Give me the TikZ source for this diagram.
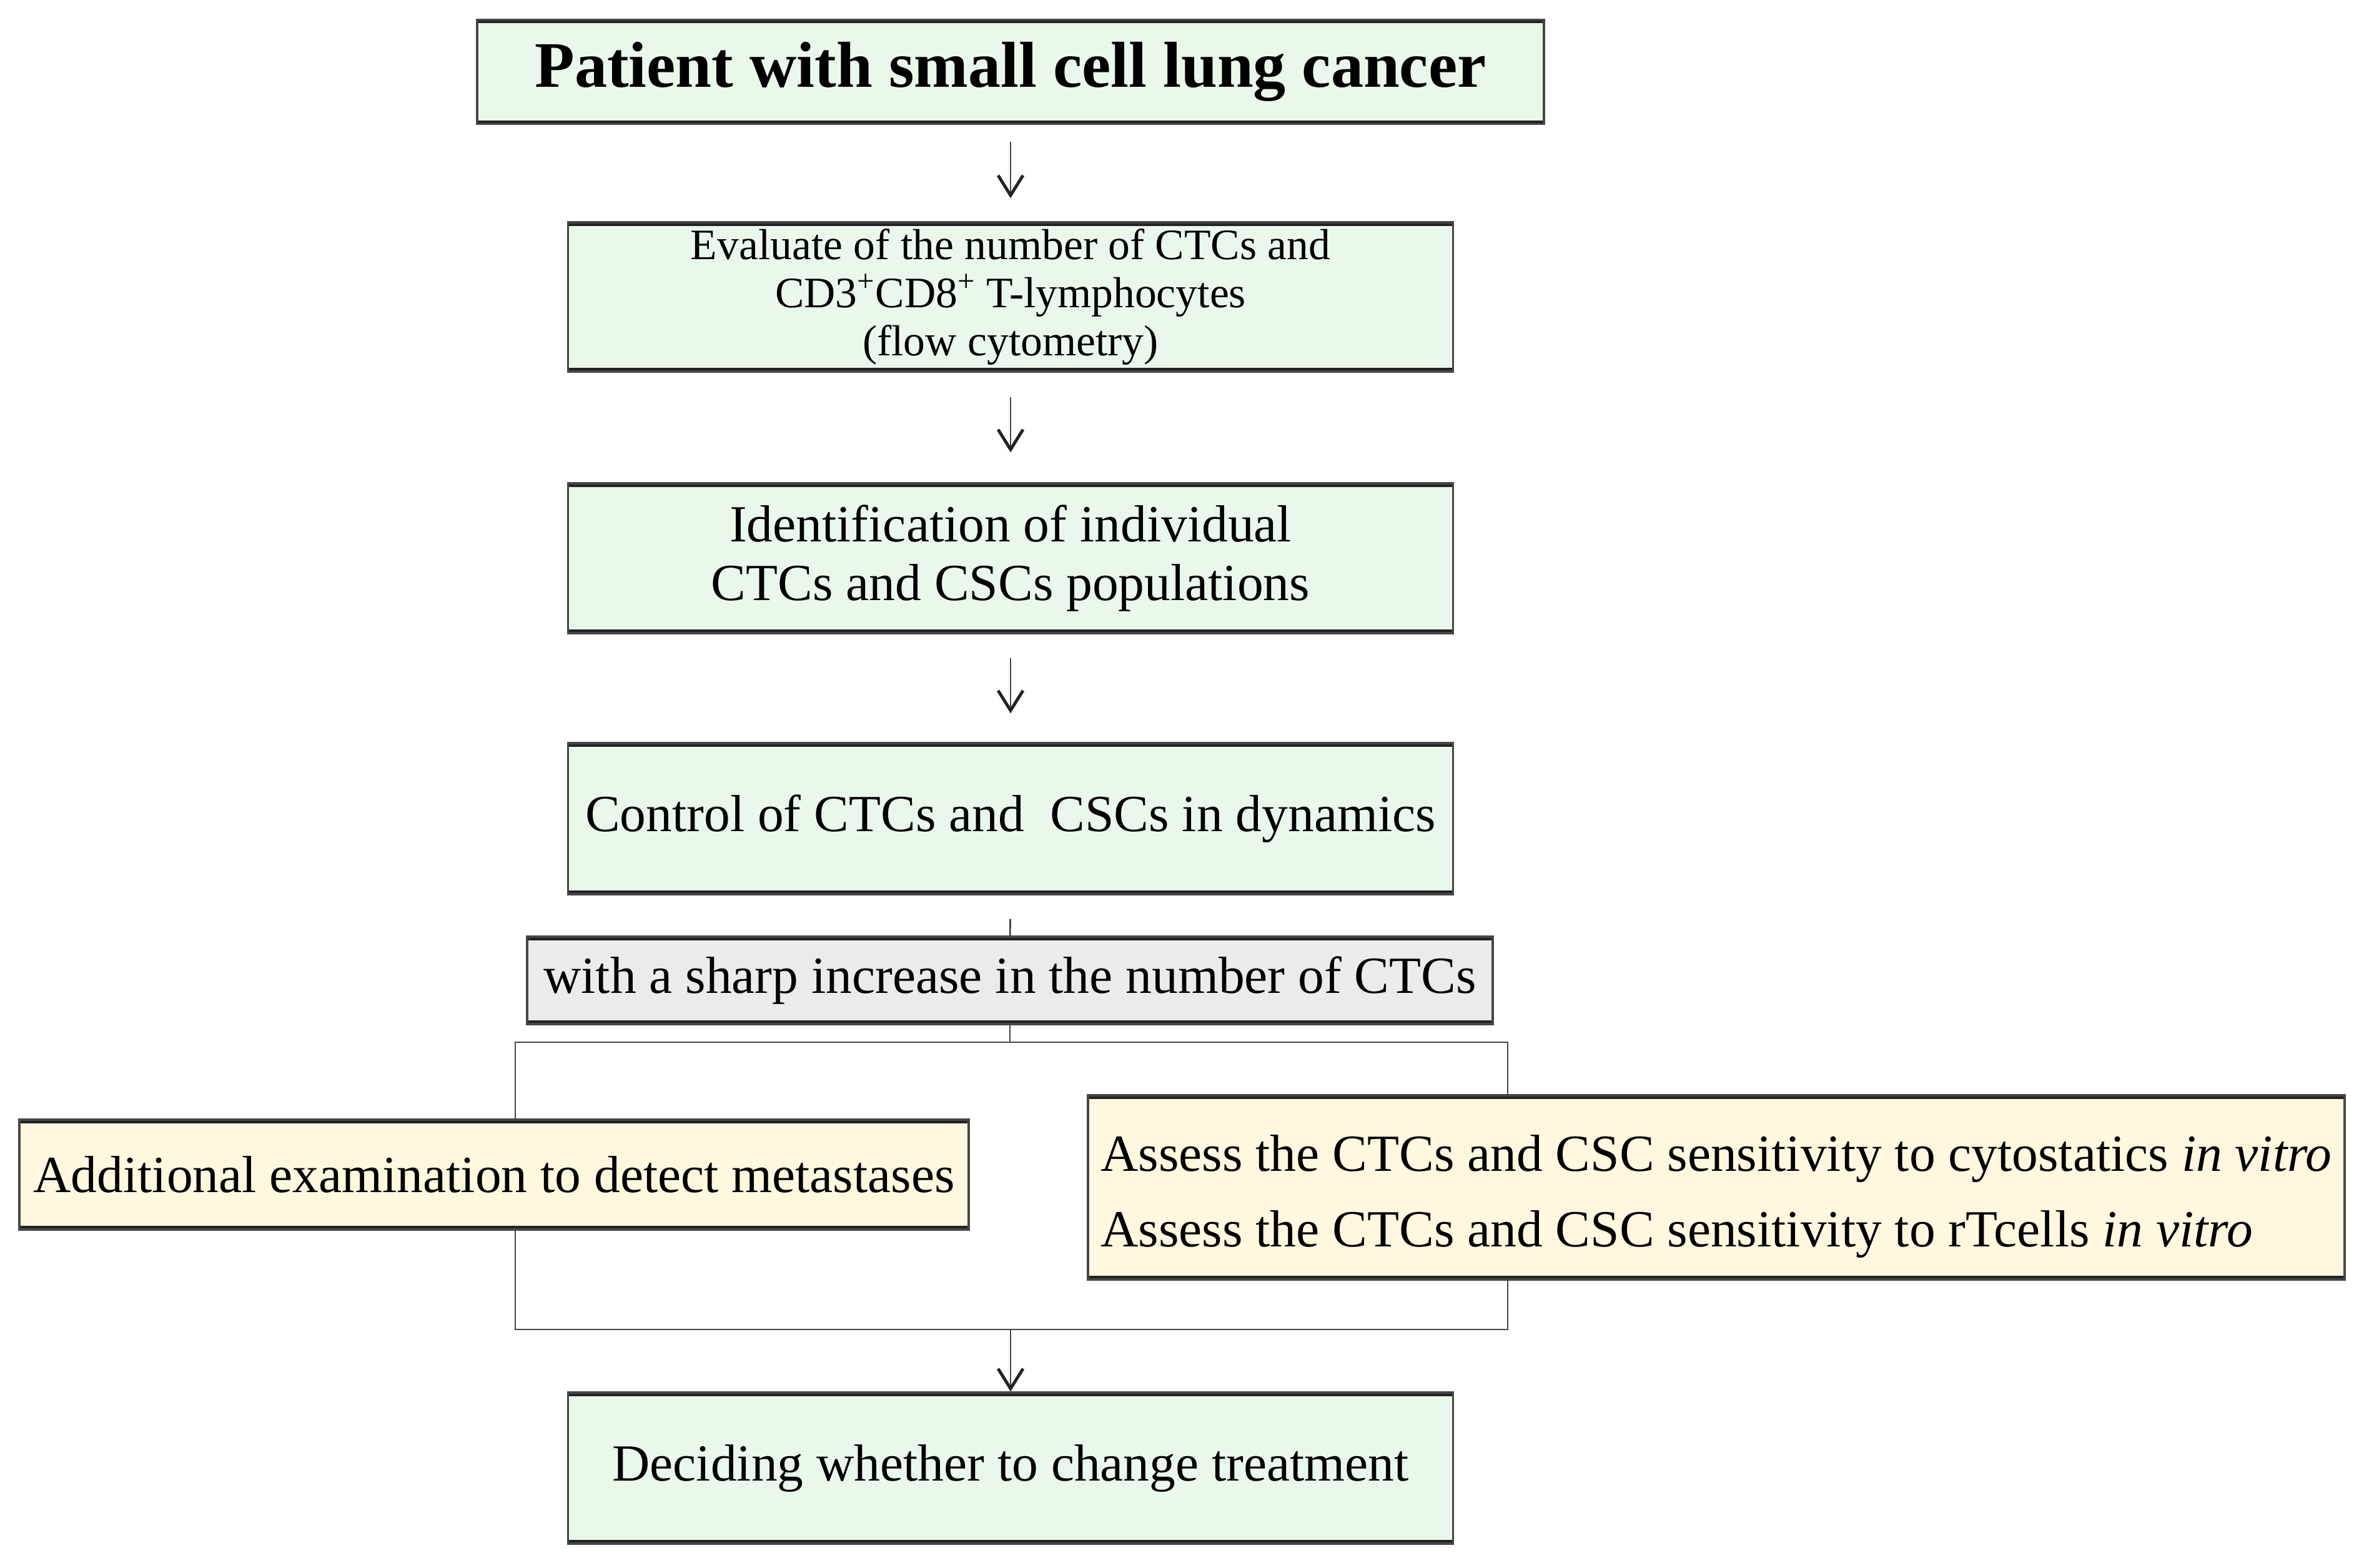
\documentclass[tikz,border=0pt]{standalone}
\usepackage{fontspec}
\setmainfont{Liberation Serif}
\usetikzlibrary{arrows.meta}
\definecolor{mint}{RGB}{234,248,236}
\definecolor{greyfill}{RGB}{235,235,235}
\definecolor{cream}{RGB}{255,247,222}
\definecolor{edge}{RGB}{70,70,70}
\definecolor{edgedark}{RGB}{35,35,35}
\tikzset{
  boxbase/.style={draw=edge, line width=0.9pt, inner sep=0pt, align=center,
    font=\fontsize{23.76pt}{26.7pt}\selectfont,
    path picture={
      \draw[edgedark, line width=3.4pt]
        (path picture bounding box.north west) -- (path picture bounding box.north east)
        (path picture bounding box.south west) -- (path picture bounding box.south east);}},
  greenbox/.style={boxbase, fill=mint},
  greybox/.style={boxbase, fill=greyfill},
  yellowbox/.style={boxbase, fill=cream},
  conn/.style={draw=edge, line width=0.8pt},
  arr/.style={conn, -{Straight Barb[length=0.32cm, width=0.40cm, line width=1.4pt, color=edgedark]}}
}
\begin{document}
\begin{tikzpicture}
\fill[white] (0,0) rectangle (37.93,-25.10);
\useasboundingbox (0,0) rectangle (37.93,-25.10);

\node[greenbox, minimum width=17.08cm, minimum height=1.67cm,
      font=\bfseries\fontsize{29.6pt}{32pt}\selectfont] (patient) at (16.18,-1.15)
  {Patient with small cell lung cancer};
\node[greenbox, minimum width=14.17cm, minimum height=2.39cm,
      font=\fontsize{19.8pt}{21.9pt}\selectfont] (evaluate) at (16.18,-4.755)
  {Evaluate of the number of CTCs and\\CD3\textsuperscript{+}CD8\textsuperscript{+} T-lymphocytes\\(flow cytometry)};
\node[greenbox, minimum width=14.17cm, minimum height=2.40cm] (identify) at (16.18,-8.94)
  {Identification of individual\\CTCs and CSCs populations};
\node[greenbox, minimum width=14.17cm, minimum height=2.42cm] (control) at (16.18,-13.11)
  {Control of CTCs and \ CSCs in dynamics};
\node[greybox, minimum width=15.46cm, minimum height=1.40cm] (increase) at (16.17,-15.70)
  {with a sharp increase in the number of CTCs};
\node[greenbox, minimum width=14.17cm, minimum height=2.42cm] (decide) at (16.18,-23.51)
  {Deciding whether to change treatment};

\coordinate (brTL) at (8.25,-16.69);
\coordinate (brBR) at (24.14,-21.29);
\coordinate (brBL) at (8.25,-21.29);

\draw[arr, shorten <=0.27cm, shorten >=0.37cm] (patient) -- (evaluate);
\draw[arr, shorten <=0.39cm, shorten >=0.48cm] (evaluate) -- (identify);
\draw[arr, shorten <=0.38cm, shorten >=0.46cm] (identify) -- (control);
\draw[conn, shorten <=0.38cm] (control) -- (increase);
\draw[conn] (increase.south) -- (increase.south |- brTL);
\draw[conn] (brTL) rectangle (brBR);
\draw[arr] (decide.north |- brBL) -- (decide.north);

\node[yellowbox, minimum width=15.20cm, minimum height=1.76cm] (exam) at (7.91,-18.81)
  {Additional examination to detect metastases};
\node[yellowbox, minimum width=20.12cm, minimum height=2.95cm, align=left,
      font=\fontsize{23.76pt}{34.4pt}\selectfont] (assess) at (27.48,-19.015)
  {\rule{0pt}{0.87cm}Assess the CTCs and CSC sensitivity to cytostatics \textit{in vitro}\\
   Assess the CTCs and CSC sensitivity to rTcells \textit{in vitro}};
\end{tikzpicture}
\end{document}
